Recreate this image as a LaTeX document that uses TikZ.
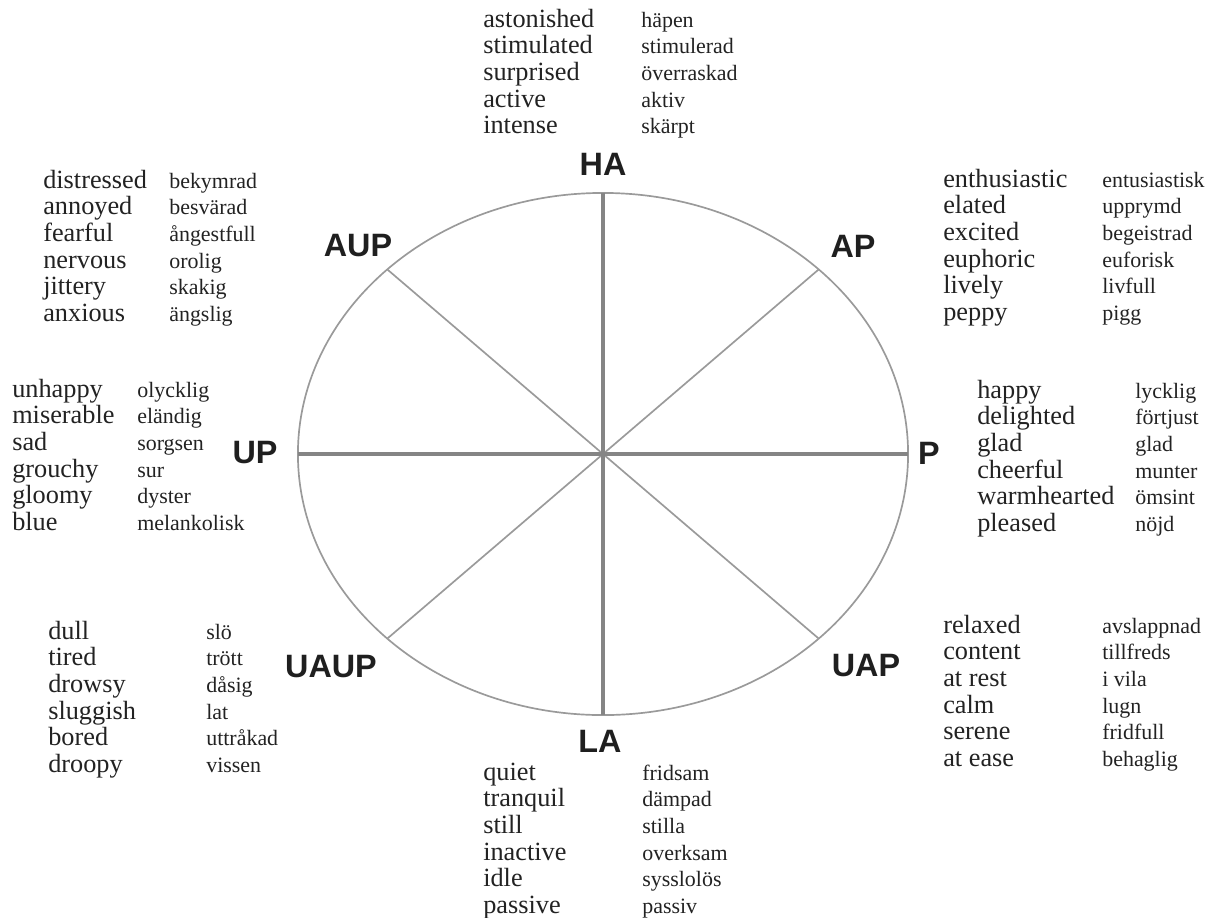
\documentclass[tikz,border=0pt]{standalone}
\usepackage{fontspec}
\setmainfont{Liberation Serif}
\newfontfamily\labelfont{Liberation Sans}
\usepackage{array}
\usepackage{xcolor}
\definecolor{wheelline}{HTML}{9A9A9A}
\definecolor{axisline}{HTML}{858585}
\definecolor{wordtext}{HTML}{222222}
\usetikzlibrary{calc}
\newcommand{\enfont}{\fontsize{18.7}{19}\selectfont}
\newcommand{\svfont}{\fontsize{15.6}{19}\selectfont}
\newcolumntype{Q}[1]{@{}>{\enfont}p{#1}@{}>{\svfont}l@{}}

\begin{document}
\begin{tikzpicture}[
  x=0.025cm, y=-0.025cm,
  words/.style={anchor=base west, inner sep=0pt, text=wordtext, font=\enfont},
  pole/.style={inner sep=0pt, text=black!88,
    font=\labelfont\bfseries\fontsize{23}{23}\selectfont},
  spoke/.style={draw=wheelline, line width=1.2pt},
  axis/.style={draw=axisline, line width=3.4pt}
]
  \useasboundingbox (0,0) rectangle (1211,917);

  % wheel
  \coordinate (O) at (603,454);
  \draw[spoke] (O) ellipse [x radius=7.625cm, y radius=6.525cm];
  \coordinate (ap-end)   at ($(O)+(45:7.625cm and 6.525cm)$);
  \coordinate (aup-end)  at ($(O)+(135:7.625cm and 6.525cm)$);
  \coordinate (uaup-end) at ($(O)+(225:7.625cm and 6.525cm)$);
  \coordinate (uap-end)  at ($(O)+(315:7.625cm and 6.525cm)$);
  \coordinate (ha-end)   at ($(O)+(90:7.625cm and 6.525cm)$);
  \coordinate (la-end)   at ($(O)+(270:7.625cm and 6.525cm)$);
  \coordinate (p-end)    at ($(O)+(0:7.625cm and 6.525cm)$);
  \coordinate (up-end)   at ($(O)+(180:7.625cm and 6.525cm)$);
  \draw[spoke] (aup-end) -- (uap-end);
  \draw[spoke] (ap-end) -- (uaup-end);
  \draw[axis] (ha-end) -- (la-end);
  \draw[axis] (up-end) -- (p-end);

  % pole labels
  \node[pole] (HA)   at (603,164) {HA};
  \node[pole] (AP)   at (853,246) {AP};
  \node[pole] (P)    at (929,453) {P};
  \node[pole] (UAP)  at (866,666) {UAP};
  \node[pole] (LA)   at (600,741) {LA};
  \node[pole] (UAUP) at (331,667) {UAUP};
  \node[pole] (UP)   at (255,453) {UP};
  \node[pole] (AUP)  at (358,246) {AUP};

  % word lists
  \node[words] (ha-words) at (483,27) {\begin{tabular}[t]{Q{3.95cm}}
    astonished & häpen\\
    stimulated & stimulerad\\
    surprised & överraskad\\
    active & aktiv\\
    intense & skärpt
  \end{tabular}};
  \node[words] (ap-words) at (943,187) {\begin{tabular}[t]{Q{3.975cm}}
    enthusiastic & entusiastisk\\
    elated & upprymd\\
    excited & begeistrad\\
    euphoric & euforisk\\
    lively & livfull\\
    peppy & pigg
  \end{tabular}};
  \node[words] (p-words) at (977,398) {\begin{tabular}[t]{Q{3.95cm}}
    happy & lycklig\\
    delighted & förtjust\\
    glad & glad\\
    cheerful & munter\\
    warmhearted & ömsint\\
    pleased & nöjd
  \end{tabular}};
  \node[words] (uap-words) at (943,633) {\begin{tabular}[t]{Q{3.975cm}}
    relaxed & avslappnad\\
    content & tillfreds\\
    at rest & i vila\\
    calm & lugn\\
    serene & fridfull\\
    at ease & behaglig
  \end{tabular}};
  \node[words] (la-words) at (483,780) {\begin{tabular}[t]{Q{3.975cm}}
    quiet & fridsam\\
    tranquil & dämpad\\
    still & stilla\\
    inactive & overksam\\
    idle & sysslolös\\
    passive & passiv
  \end{tabular}};
  \node[words] (uaup-words) at (48,639) {\begin{tabular}[t]{Q{3.95cm}}
    dull & slö\\
    tired & trött\\
    drowsy & dåsig\\
    sluggish & lat\\
    bored & uttråkad\\
    droopy & vissen
  \end{tabular}};
  \node[words] (up-words) at (12,397) {\begin{tabular}[t]{Q{3.125cm}}
    unhappy & olycklig\\
    miserable & eländig\\
    sad & sorgsen\\
    grouchy & sur\\
    gloomy & dyster\\
    blue & melankolisk
  \end{tabular}};
  \node[words] (aup-words) at (43,188) {\begin{tabular}[t]{Q{3.15cm}}
    distressed & bekymrad\\
    annoyed & besvärad\\
    fearful & ångestfull\\
    nervous & orolig\\
    jittery & skakig\\
    anxious & ängslig
  \end{tabular}};
\end{tikzpicture}
\end{document}
